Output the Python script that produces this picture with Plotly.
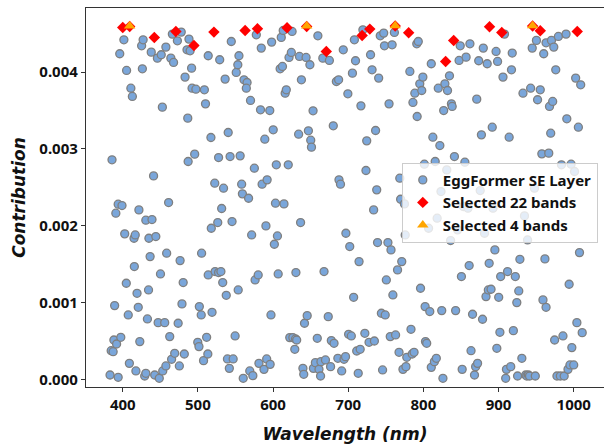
import plotly.graph_objects as go

# Blue points: wavelength (nm) and contribution
se_nm = [385.7,383.1,393.9,384.6,387.2,388.2,391.8,397.4,389.2,390.8,393.9,399.0,396.0,401.5,405.1,410.8,412.8,402.6,404.7,407.3,
408.8,417.5,415.0,416.6,415.4,419.0,420.6,422.7,421.5,425.1,427.1,426.1,429.2,430.7,430.7,438.9,432.8,434.3,436.4,434.8,
441.0,437.9,444.0,446.1,451.2,457.4,452.7,447.1,455.8,450.2,458.4,442.5,448.6,453.2,457.4,461.0,462.5,464.0,467.6,466.0,
465.0,469.1,473.7,472.7,477.8,475.3,476.3,478.8,480.4,481.9,482.9,485.5,488.1,489.6,486.5,487.0,491.6,495.7,492.2,497.3,
508.6,510.1,501.9,504.4,499.8,501.4,507.5,511.6,513.2,504.9,513.7,517.3,513.7,518.8,517.8,522.4,522.9,527.5,530.6,529.0,
527.5,526.4,531.6,533.0,534.1,536.2,537.7,539.3,546.9,541.8,540.3,542.8,544.4,545.4,549.5,551.0,553.1,554.6,553.6,556.2,
558.2,559.2,560.3,561.3,565.4,564.4,567.4,570.0,569.0,573.1,571.5,575.1,576.1,580.2,577.7,581.2,584.3,583.3,585.4,589.0,
590.5,592.1,591.5,587.9,595.6,597.2,596.1,600.2,598.1,601.7,604.3,603.2,605.8,606.8,609.4,612.5,610.9,613.5,614.5,616.1,
617.6,620.2,621.2,624.3,625.3,622.2,626.3,629.9,631.4,628.9,630.4,634.0,635.1,636.6,637.7,639.7,640.8,641.8,645.4,643.9,
647.0,649.0,650.1,651.1,653.2,653.7,656.3,658.8,659.6,661.1,663.2,663.7,667.8,666.2,669.7,673.4,674.9,676.5,677.5,680.1,
681.1,684.2,686.2,687.2,687.7,689.7,691.3,693.4,694.4,696.4,696.9,699.5,700.5,702.0,704.1,705.6,707.2,708.2,709.7,711.3,
713.3,714.4,715.9,716.9,719.5,722.1,723.6,724.6,727.7,729.7,731.7,733.8,734.8,736.4,737.9,739.0,740.5,742.6,744.1,745.7,
747.2,748.2,749.2,750.7,752.8,754.3,755.9,756.9,758.4,759.4,763.0,761.4,765.6,767.6,768.6,769.7,771.2,772.8,774.8,775.8,
776.8,777.9,782.0,783.5,785.1,786.1,787.6,788.6,791.2,793.2,791.7,795.2,796.2,797.8,799.3,801.3,802.3,802.8,804.4,806.9,
808.5,810.5,812.6,810.5,814.6,815.7,817.2,818.3,819.8,821.9,823.4,824.4,826.0,827.0,828.6,831.1,832.1,834.7,836.2,837.3,
838.3,841.3,842.9,845.5,847.5,849.0,851.6,850.6,853.1,855.2,856.8,859.3,860.9,861.9,863.4,865.4,868.0,869.5,872.1,871.0,
873.6,875.6,877.2,878.7,879.7,881.3,883.3,884.9,886.4,887.5,890.0,891.6,892.6,895.1,896.7,898.7,897.7,900.2,901.8,902.8,
905.9,907.9,909.5,910.5,912.0,914.1,916.2,917.2,918.2,919.7,922.3,924.3,925.3,926.9,928.4,931.0,932.5,934.5,936.1,937.6,
938.6,939.7,941.2,942.7,944.8,947.8,948.9,950.4,951.9,955.5,957.6,959.1,960.1,961.7,963.2,963.2,966.8,967.8,969.4,970.4,
972.0,973.5,974.6,976.1,977.7,979.6,982.2,983.7,985.7,987.3,989.8,990.8,992.4,993.9,995.0,996.5,997.5,1000.0,1001.1,1002.6,
1004.2,1006.2,1007.7,1009.3,1011.3]

se_contrib = [0.002858,0.000056,0.000026,0.000373,0.000360,0.000512,0.000460,0.000547,0.000960,0.002163,0.002280,0.002263,0.004239,0.004421,0.004022,0.003791,0.003683,0.001894,0.001251,0.000838,
0.000208,0.000109,0.001837,0.001880,0.001468,0.001120,0.000938,0.000491,0.002206,0.004343,0.004421,0.004043,0.000043,0.000078,0.002072,0.002080,0.000786,0.001164,0.001598,0.001837,
0.002649,0.004260,0.001859,0.004182,0.004226,0.004326,0.003544,0.000738,0.000738,0.001372,0.001642,0.000056,0.000013,0.000109,0.000174,0.002302,0.000556,0.004182,0.004126,0.004495,
0.000261,0.000339,0.000730,0.004408,0.004521,0.000174,0.001546,0.000982,0.001260,0.000330,0.003935,0.004291,0.004430,0.004278,0.003401,0.002836,0.004052,0.002932,0.003791,0.003778,
0.003770,0.003587,0.000947,0.000838,0.000482,0.000426,0.000243,0.000547,0.000330,0.001642,0.001359,0.003149,0.004213,0.000873,0.001967,0.002554,0.001403,0.001390,0.001403,0.004161,
0.002888,0.002041,0.002224,0.001260,0.002489,0.003909,0.001094,0.000265,0.000265,0.000143,0.003214,0.002901,0.004399,0.002054,0.000565,0.003996,0.004096,0.004213,0.001164,0.002910,
0.002541,0.002415,0.000013,0.003900,0.003865,0.003791,0.002358,0.003631,0.000109,0.000048,0.001880,0.002749,0.001294,0.001359,0.004486,0.000208,0.004313,0.003509,0.002541,0.003127,
0.001998,0.002597,0.000265,0.000130,0.003500,0.000838,0.000195,0.003249,0.004391,0.001759,0.002793,0.002293,0.001867,0.001372,0.004043,0.004074,0.004452,0.004543,0.002284,0.003726,
0.003770,0.002793,0.004191,0.004256,0.004530,0.000543,0.000543,0.000526,0.000512,0.000391,0.001390,0.003192,0.004204,0.002041,0.003900,0.000143,0.000065,0.000730,0.000829,0.004191,
0.003236,0.004096,0.003114,0.003023,0.003496,0.000143,0.000217,0.000534,0.004473,0.000130,0.000043,0.000230,0.001403,0.004182,0.000252,0.000816,0.004152,0.000165,0.000504,0.003301,
0.000469,0.003878,0.000274,0.003900,0.002597,0.002541,0.000109,0.004291,0.000261,0.000295,0.001902,0.003718,0.000586,0.001729,0.000565,0.003987,0.001068,0.004421,0.004148,0.000369,
0.000078,0.001533,0.000391,0.003561,0.004551,0.000599,0.002719,0.003105,0.000482,0.004226,0.004030,0.002206,0.000499,0.003240,0.002467,0.001781,0.003922,0.004473,0.000860,0.000122,
0.004508,0.004343,0.000838,0.001294,0.001781,0.003587,0.000556,0.001685,0.004356,0.001099,0.000578,0.004517,0.001425,0.000352,0.002619,0.002345,0.001533,0.000130,0.002284,0.001880,
0.000165,0.000287,0.004009,0.000651,0.000330,0.003605,0.000352,0.003726,0.004369,0.004399,0.003422,0.003848,0.001186,0.003761,0.003935,0.002801,0.000947,0.000491,0.000469,0.001967,
0.000882,0.000156,0.003153,0.004109,0.000230,0.002836,0.000274,0.002098,0.003791,0.003044,0.002445,0.000895,0.000013,0.003500,0.003848,0.002727,0.003761,0.003952,0.001807,0.003587,
0.003553,0.002901,0.000895,0.001946,0.004152,0.004343,0.000130,0.001338,0.002250,0.002827,0.004195,0.002228,0.001481,0.004369,0.000373,0.000847,0.000056,0.000165,0.000208,0.003648,
0.004148,0.002458,0.003183,0.000782,0.004313,0.001902,0.001077,0.004109,0.001164,0.001511,0.001173,0.003283,0.002228,0.001685,0.004269,0.004139,0.000404,0.001068,0.000612,0.001338,
0.003935,0.004495,0.000013,0.000130,0.001403,0.003153,0.000165,0.004030,0.004248,0.000634,0.001338,0.000999,0.000043,0.001151,0.001563,0.000274,0.003726,0.002128,0.000056,0.000043,
0.001815,0.000056,0.000043,0.003791,0.004313,0.002489,0.000043,0.004413,0.003640,0.003770,0.002936,0.001034,0.004239,0.001568,0.000938,0.004382,0.002945,0.003553,0.003205,0.004413,
0.003618,0.004326,0.000512,0.004030,0.000043,0.004465,0.000043,0.002793,0.000565,0.000043,0.004495,0.003392,0.000130,0.001238,0.000187,0.002801,0.000413,0.000187,0.002706,0.003922,
0.000738,0.003283,0.001650,0.003835,0.000608]

sel22_nm = [400.0,409.2,442.0,470.7,494.7,521.3,562.8,579.2,618.6,644.7,670.8,718.5,728.7,762.5,780.4,829.6,840.3,888.0,904.3,945.3,955.5,1004.7]
sel22_contrib = [0.004582,0.004595,0.004452,0.004530,0.004347,0.004521,0.004543,0.004565,0.004578,0.004595,0.004269,0.004478,0.004560,0.004600,0.004512,0.004139,0.004413,0.004590,0.004517,0.004600,0.004539,0.004530]

sel4_nm = [409.2,644.7,762.5,945.3]
sel4_contrib = [0.004600,0.004600,0.004605,0.004605]

x_ticks = [400,500,600,700,800,900,1000]
y_ticks = [0.000,0.001,0.002,0.003,0.004]

FONT = "Noto Sans"
TITLE_FONT = "DejaVu Sans"

fig = go.Figure()
fig.add_trace(go.Scatter(
    x=se_nm, y=se_contrib, mode="markers", name="EggFormer SE Layer",
    marker=dict(symbol="circle", size=8, color="#7aa6da",
                line=dict(color="#7f7f7f", width=1.3))))
fig.add_trace(go.Scatter(
    x=sel22_nm, y=sel22_contrib, mode="markers", name="Selected 22 bands",
    marker=dict(symbol="diamond", size=8.8, color="#ff0000", line=dict(width=0))))
fig.add_trace(go.Scatter(
    x=sel4_nm, y=sel4_contrib, mode="markers", name="Selected 4 bands",
    marker=dict(symbol="triangle-up", size=10, color="#ffa500", line=dict(width=0))))

axis_common = dict(
    showgrid=False, zeroline=False, showline=True, linecolor="#333333", linewidth=1.3,
    ticks="outside", ticklen=4, tickwidth=1.2, tickcolor="#333333",
    tickfont=dict(family=FONT, size=15, color="#111111", weight="bold"),
)

title_font = dict(family=TITLE_FONT, size=17, color="#111111", weight="bold", style="italic")

fig.update_layout(
    width=604, height=444,
    margin=dict(l=86, r=0, t=8, b=57),
    paper_bgcolor="white", plot_bgcolor="white",
    font=dict(family=FONT),
    xaxis=dict(range=[351.1, 1040.3], tickvals=x_ticks, mirror=True,
               title=dict(text="Wavelength (nm)", standoff=14, font=title_font),
               **axis_common),
    yaxis=dict(range=[-0.0001, 0.004835], tickvals=y_ticks, tickformat=".3f",
               title=dict(text="Contribution", standoff=9, font=title_font),
               **axis_common),
    legend=dict(x=0.988, y=0.592, xanchor="right", yanchor="top",
                bgcolor="rgba(255,255,255,0.8)", bordercolor="#cccccc", borderwidth=1,
                font=dict(family=FONT, size=15, color="#111111", weight="bold"),
                tracegroupgap=0),
    showlegend=True,
)

fig.write_html("out.html")
